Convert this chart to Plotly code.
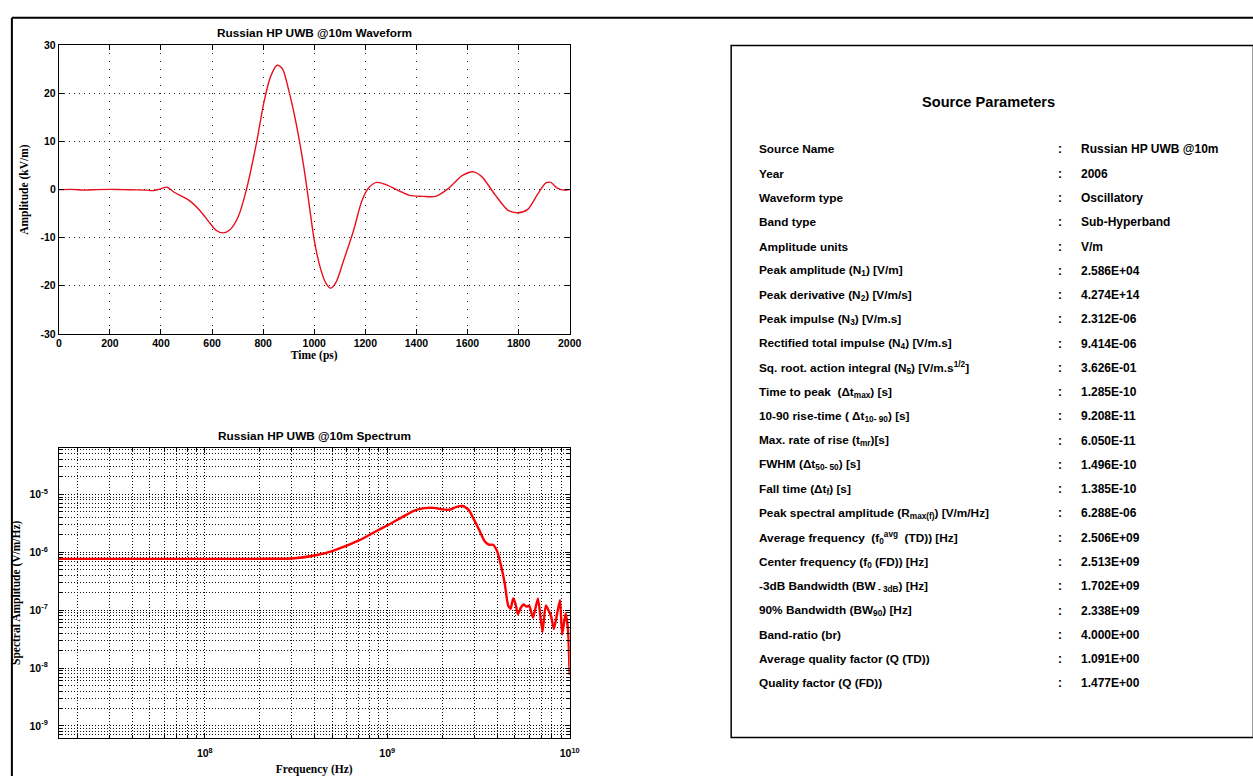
import plotly.graph_objects as go

W, H = 1253, 776

# ---- Waveform (time domain) ----
wave_t_ps = [0, 50, 100, 150, 200, 250, 300, 340, 370, 395, 424, 450, 482, 514,
             553, 592, 617, 643, 669, 701, 733, 772, 804, 829, 855, 875, 900,
             926, 958, 980, 1000, 1026, 1045, 1064, 1084, 1116, 1154, 1186, 1212,
             1244, 1283, 1334, 1373, 1424, 1476, 1527, 1579, 1624, 1656, 1707,
             1759, 1797, 1836, 1874, 1907, 1926, 1952, 1977, 2000]
wave_kv_m = [0.0, 0.05, -0.1, 0.0, 0.05, 0.0, -0.05, -0.1, -0.2, 0.1, 0.5, -0.5,
             -1.4, -2.4, -4.4, -7.0, -8.5, -9.0, -8.4, -5.8, -0.3, 9.2, 18.4,
             23.5, 25.86, 25.2, 20.7, 14.6, 5.1, -3.0, -10.5, -16.7, -19.4, -20.5,
             -19.4, -14.6, -8.5, -2.4, 0.3, 1.5, 1.0, -0.3, -1.2, -1.4, -1.4, 0.3,
             2.9, 3.7, 2.7, -1.0, -4.3, -4.8, -4.1, -1.0, 1.4, 1.5, 0.3, -0.1, 0.0]

wave_xticks = [0, 200, 400, 600, 800, 1000, 1200, 1400, 1600, 1800, 2000]
wave_yticks = [-30, -20, -10, 0, 10, 20, 30]
wave_ytick_labels = ["-30", "-20", "-10", "0", "10", "20", "30"]

# ---- Spectrum (frequency domain) ----
spec_freq_hz = [1.58e7, 3e7, 6e7, 1e8, 2e8, 3e8, 4e8, 5e8, 6e8, 7e8, 8e8, 9e8,
                1e9, 1.2e9, 1.4e9, 1.6e9, 1.8e9, 2.0e9, 2.2e9, 2.4e9, 2.6e9,
                2.8e9, 3.0e9, 3.2e9, 3.4e9, 3.6e9, 3.8e9, 4.0e9, 4.2e9, 4.4e9,
                4.6e9, 4.75e9, 4.9e9, 5.05e9, 5.2e9, 5.4e9, 5.6e9, 5.8e9, 6.0e9,
                6.3e9, 6.7e9, 7.1e9, 7.4e9, 7.9e9, 8.2e9, 8.85e9, 9.1e9, 9.5e9,
                9.8e9, 1e10]
spec_amp = [7.7e-7, 7.7e-7, 7.7e-7, 7.7e-7, 7.7e-7, 7.8e-7, 8.8e-7, 1.05e-6,
            1.3e-6, 1.6e-6, 2.0e-6, 2.45e-6, 2.9e-6, 4.0e-6, 5.2e-6, 5.8e-6,
            5.85e-6, 5.5e-6, 5.45e-6, 6.1e-6, 6.288e-6, 5.4e-6, 3.6e-6, 2.4e-6,
            1.6e-6, 1.35e-6, 1.35e-6, 1.05e-6, 6e-7, 3e-7, 1.2e-7, 1.05e-7,
            1.6e-7, 1.3e-7, 8.5e-8, 1.1e-7, 1.25e-7, 1.15e-7, 1.2e-7, 7.4e-8,
            1.6e-7, 4.2e-8, 1.2e-7, 8e-8, 4.7e-8, 1.5e-7, 3.8e-8, 8.8e-8,
            4.6e-8, 7.6e-9]

spec_xticks = [1e8, 1e9, 1e10]
spec_xtick_labels = ["10<sup>8</sup>", "10<sup>9</sup>", "10<sup>10</sup>"]
spec_yticks = [1e-9, 1e-8, 1e-7, 1e-6, 1e-5]
spec_ytick_labels = ["10<sup>-9</sup>", "10<sup>-8</sup>", "10<sup>-7</sup>",
                     "10<sup>-6</sup>", "10<sup>-5</sup>"]

# ---- Source parameter table ----
param_names = [
    "Source Name",
    "Year",
    "Waveform type",
    "Band type",
    "Amplitude units",
    "Peak amplitude (N<sub>1</sub>) [V/m]",
    "Peak derivative (N<sub>2</sub>) [V/m/s]",
    "Peak impulse (N<sub>3</sub>) [V/m.s]",
    "Rectified total impulse (N<sub>4</sub>) [V/m.s]",
    "Sq. root. action integral (N<sub>5</sub>) [V/m.s<sup>1/2</sup>]",
    "Time to peak  (\u0394t<sub>max</sub>) [s]",
    "10-90 rise-time ( \u0394t<sub>10- 90</sub>) [s]",
    "Max. rate of rise (t<sub>mr</sub>)[s]",
    "FWHM (\u0394t<sub>50- 50</sub>) [s]",
    "Fall time (\u0394t<sub>f</sub>) [s]",
    "Peak spectral amplitude (R<sub>max(f)</sub>) [V/m/Hz]",
    "Average frequency  (f<sub>0</sub><sup>avg</sup>  (TD)) [Hz]",
    "Center frequency (f<sub>0</sub> (FD)) [Hz]",
    "-3dB Bandwidth (BW<sub> - 3dB</sub>) [Hz]",
    "90% Bandwidth (BW<sub>90</sub>) [Hz]",
    "Band-ratio (br)",
    "Average quality factor (Q (TD))",
    "Quality factor (Q (FD))",
]
param_values = [
    "Russian HP UWB @10m", "2006", "Oscillatory", "Sub-Hyperband", "V/m",
    "2.586E+04", "4.274E+14", "2.312E-06", "9.414E-06", "3.626E-01",
    "1.285E-10", "9.208E-11", "6.050E-11", "1.496E-10", "1.385E-10",
    "6.288E-06", "2.506E+09", "2.513E+09", "1.702E+09", "2.338E+09",
    "4.000E+00", "1.091E+00", "1.477E+00",
]


def px(x):
    return x / W


def py(y):
    return 1 - y / H


SANS = "Arial, Liberation Sans, Helvetica, sans-serif"
SERIF = "Times New Roman, Liberation Serif, serif"
tick_font = dict(family=SANS, size=10.5, color="black", weight="bold")
title_font = dict(family=SERIF, size=11.5, color="black", weight="bold")

fig = go.Figure()

fig.add_trace(go.Scatter(
    x=wave_t_ps, y=wave_kv_m, mode="lines",
    line=dict(color="#e8101e", width=1.4, shape="spline", smoothing=0.8),
    xaxis="x", yaxis="y", showlegend=False, hoverinfo="x+y"))

fig.add_trace(go.Scatter(
    x=spec_freq_hz, y=spec_amp, mode="lines",
    line=dict(color="#ff0000", width=2.4, shape="spline", smoothing=0.5),
    xaxis="x2", yaxis="y2", showlegend=False, hoverinfo="x+y"))

left_dom = [px(56.5), px(573.5)]
common = dict(showline=True, linecolor="black", linewidth=1, mirror="ticks",
              ticks="inside", tickcolor="black", zeroline=False,
              tickfont=tick_font, title_font=title_font)
log_minor = dict(dtick="D1", showgrid=True, gridcolor="#111",
                 griddash="1px,2px", ticks="inside", ticklen=3,
                 tickcolor="black")

fig.update_layout(
    width=W, height=H,
    margin=dict(l=0, r=0, t=0, b=0),
    paper_bgcolor="white", plot_bgcolor="white",
    xaxis=dict(domain=left_dom, anchor="y", range=[0, 2000],
               tickvals=wave_xticks, ticklen=5,
               showgrid=True, gridcolor="#222", gridwidth=1, griddash="1px,7px",
               title=dict(text="Time (ps)", standoff=2), **common),
    yaxis=dict(domain=[py(333), py(40)], anchor="x", range=[-30, 30],
               tickvals=wave_yticks, ticktext=wave_ytick_labels, ticklen=5,
               showgrid=True, gridcolor="#222", gridwidth=1, griddash="1px,4px",
               title=dict(text="Amplitude (kV/m)", standoff=9), **common),
    xaxis2=dict(domain=left_dom, anchor="y2", type="log", range=[7.2, 10],
                tickvals=spec_xticks, ticktext=spec_xtick_labels, ticklen=5,
                ticklabelstandoff=6,
                showgrid=True, gridcolor="#000", gridwidth=1, griddash="1px,2px",
                minor=log_minor,
                title=dict(text="Frequency (Hz)", standoff=9), **common),
    yaxis2=dict(domain=[py(743), py(449)], anchor="x2", type="log",
                range=[-9.2, -4.2],
                tickvals=spec_yticks, ticktext=spec_ytick_labels, ticklen=5,
                ticklabelstandoff=8,
                showgrid=True, gridcolor="#000", gridwidth=1, griddash="1px,2px",
                minor=log_minor,
                title=dict(text="Spectral Amplitude (V/m/Hz)", standoff=6),
                **common),
)

shapes = [
    # outer frame around the left figure area
    dict(type="line", xref="paper", yref="paper", x0=px(9), x1=1.01,
         y0=py(12), y1=py(12), line=dict(color="black", width=2)),
    dict(type="line", xref="paper", yref="paper", x0=px(9), x1=px(9),
         y0=py(12), y1=-0.01, line=dict(color="black", width=2)),
    # parameter table box
    dict(type="rect", xref="paper", yref="paper", x0=px(737), x1=1.01,
         y0=py(743), y1=py(40), line=dict(color="black", width=1.5),
         fillcolor="rgba(0,0,0,0)"),
]

ann = []
plot_title_font = dict(family=SANS, size=11.8, color="black", weight="bold")
ann.append(dict(text="Russian HP UWB @10m Waveform", x=px(315), y=py(27),
                xref="paper", yref="paper", showarrow=False,
                xanchor="center", yanchor="middle", font=plot_title_font))
ann.append(dict(text="Russian HP UWB @10m Spectrum", x=px(315), y=py(437),
                xref="paper", yref="paper", showarrow=False,
                xanchor="center", yanchor="middle", font=plot_title_font))
ann.append(dict(text="Source Parameters", x=px(997), y=py(97),
                xref="paper", yref="paper", showarrow=False,
                xanchor="center", yanchor="middle",
                font=dict(family=SANS, size=14.6, color="black", weight="bold")))

label_font = dict(family=SANS, size=11.8, color="black", weight="bold")
value_font = dict(family=SANS, size=12, color="black", weight="bold")
row_top, row_step = 145.7, 24.65
for i, (name, val) in enumerate(zip(param_names, param_values)):
    yy = py(row_top + i * row_step)
    ann.append(dict(text=name, x=px(763), y=yy, xref="paper", yref="paper",
                    showarrow=False, xanchor="left", yanchor="middle",
                    font=label_font))
    ann.append(dict(text=":", x=px(1070), y=yy, xref="paper", yref="paper",
                    showarrow=False, xanchor="center", yanchor="middle",
                    font=value_font))
    ann.append(dict(text=val, x=px(1089), y=yy, xref="paper", yref="paper",
                    showarrow=False, xanchor="left", yanchor="middle",
                    font=value_font))

fig.update_layout(shapes=shapes, annotations=ann)

fig.write_html("out.html")
